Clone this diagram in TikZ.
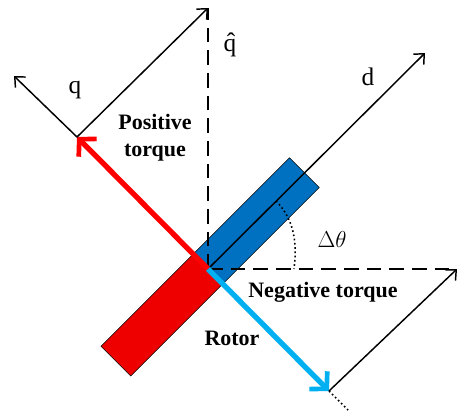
\documentclass[tikz,border=0pt]{standalone}
\usepackage{fontspec}
\setmainfont{Liberation Serif}
\usetikzlibrary{arrows.meta,calc}
\definecolor{RotorRed}{HTML}{EE0000}
\definecolor{RotorBlue}{HTML}{0070C0}
\definecolor{TorqueRed}{HTML}{FF0000}
\definecolor{TorqueBlue}{HTML}{00B0F0}

\begin{document}
\begin{tikzpicture}[x=0.75pt, y=0.75pt,
    half/.style={draw=black, line width=0.4pt, minimum height=31.5pt, inner sep=0pt, rotate=45},
    axis/.style={-{Straight Barb[length=6pt,width=11pt]}, line width=1.1pt},
    guide/.style={line width=1.4pt, dash pattern=on 11pt off 6pt},
    torque/.style={-{Straight Barb[length=9pt,width=19pt,line width=3.5pt]}, line width=4pt},
    lbl/.style={font=\fontsize{19}{22}\selectfont},
    tlbl/.style={font=\fontsize{16.5}{20}\selectfont\bfseries, align=center}
  ]
    \useasboundingbox (-208,-148) rectangle (251,269);
    \coordinate (O) at (0,0);
    \coordinate (qhat) at (0,261);
    \coordinate (dhat) at (249,0);
    \coordinate (q) at (-131,132);
    \coordinate (qend) at (-194,193);
    \coordinate (d) at (217,216);
    \coordinate (neg) at (121,-122);
    \coordinate (tail) at (140,-141);
    \coordinate (a1) at (68,68);
    \coordinate (a2) at (86,0);

    % rotor halves
    \node[half, fill=RotorBlue, minimum width=102pt, anchor=west] (north) at (O) {};
    \node[half, fill=RotorRed, minimum width=97.5pt, anchor=east] (south) at (O) {};

    \draw[axis] (O) -- (d);
    \draw[guide] (O) -- (qhat);
    \draw[guide] (O) -- (dhat);
    \draw[torque, TorqueRed] (O) -- (q);
    \draw[torque, TorqueBlue] (O) -- (neg);
    \draw[axis] (q) -- (qend);
    \draw[axis] (q) -- (qhat);
    \draw[axis] (neg) -- (dhat);
    \draw[dotted, line width=1.2pt] (neg) -- (tail);
    \draw[dotted, line width=1.2pt] (a1) .. controls (84,52) and (90,30) .. (a2);

    \node[lbl] (qlbl) at (-133,179) {q};
    \node[lbl] (qhatlbl) at (22,224) {\^{q}};
    \node[lbl] (dlbl) at (160,192) {d};
    \node[lbl] (angle) at (124,29) {$\Delta\theta$};
    \node[tlbl] (pos) at (-53,131) {Positive\\torque};
    \node[tlbl] (negl) at (115,-23) {Negative torque};
    \node[tlbl] (rotor) at (24,-69) {Rotor};
\end{tikzpicture}
\end{document}
